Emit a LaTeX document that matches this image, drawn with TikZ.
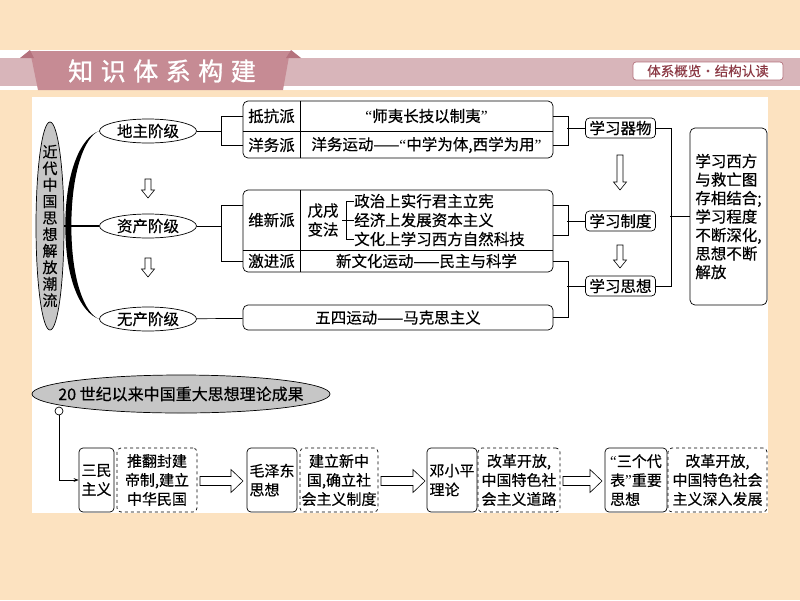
\documentclass[tikz,border=0pt]{standalone}
\usepackage{fontspec}
\setmainfont[FakeBold=0.4]{Noto Sans CJK SC}
\newfontfamily\titlefont[LetterSpace=30,FakeBold=1.2]{Noto Sans CJK SC}
\newfontfamily\quotefont{Liberation Serif}
\newcommand\lquo{{\quotefont “}}
\newcommand\rquo{{\quotefont ”}}
\usepackage{xcolor}
\usetikzlibrary{arrows.meta,shapes.geometric}
\definecolor{peach}{HTML}{FCE2C0}
\definecolor{band}{HTML}{D8B5BA}
\definecolor{tab}{HTML}{C68B94}
\definecolor{tabdark}{HTML}{B4727D}
\definecolor{tagred}{HTML}{8C3A45}

\begin{document}
\begin{tikzpicture}[x=1pt,y=-1pt,line width=0.7pt,>={Stealth[length=5pt]},
  every node/.style={font=\fontsize{15.5pt}{19pt}\selectfont},
  cls/.style={ellipse,draw,fill=white,minimum width=97pt,minimum height=24pt,inner sep=0pt},
  grp/.style={draw,rounded corners=5pt,minimum width=310pt,inner sep=0pt},
  cell/.style={minimum width=57pt,inner sep=0pt},
  row/.style={minimum width=253pt,inner sep=0pt},
  item/.style={draw,rounded corners=4pt,minimum width=70pt,minimum height=20pt,inner sep=1pt},
  lbox/.style={draw,rounded corners=4pt,minimum height=64pt,inner sep=1pt,align=left,font=\fontsize{15pt}{19pt}\selectfont},
  dbox/.style={draw,dashed,rounded corners=4pt,minimum height=64pt,inner sep=0.5pt,align=center,font=\fontsize{15pt}{19pt}\selectfont},
  hollow/.style={draw,fill=white,line width=0.6pt}]
  \useasboundingbox (0,0) rectangle (800,600);
  % page and banner
  \fill[peach] (0,0) rectangle (800,600);
  \fill[white] (0,50) rectangle (800,90);
  \fill[band] (0,58) rectangle (800,86);
  \fill[tab] (30,51) -- (290,51) -- (283,90) -- (38,90) -- cycle;
  \fill[tabdark] (20,58) -- (30,50) -- (34,58) -- cycle;
  \fill[tabdark] (286,58) -- (291,50) -- (301,58) -- cycle;
  \node[font=\titlefont\fontsize{25pt}{25pt}\selectfont,text=white] (title) at (162,71) {知识体系构建};
  \node[fill=white,draw=tabdark,rounded corners=3pt,minimum width=150pt,minimum height=18pt,inner sep=0pt,
        text=tagred,font=\fontsize{13.5pt}{13.5pt}\selectfont] (tag) at (708,71) {体系概览·结构认读};
  \fill[white] (32,97) rectangle (768,513);

  % left part
  \node[ellipse,draw,fill=gray!45,minimum width=28pt,minimum height=208pt,inner sep=0pt] (cl) at (50,226) {};
  \node[align=center,font=\fontsize{15pt}{16.5pt}\selectfont] (clt) at (cl) {近\\代\\中\\国\\思\\想\\解\\放\\潮\\流};
  \node[cls] (dz) at (148,131) {地主阶级};
  \node[cls] (zc) at (148,226) {资产阶级};
  \node[cls] (wc) at (148,319) {无产阶级};
  \fill ([xshift=1pt]cl.east) .. controls +(0,-55) and +(-18,6) .. (dz.west)
        .. controls +(-14,5) and +(0,-55) .. ([xshift=7pt]cl.east) -- cycle;
  \fill ([xshift=1pt]cl.east) .. controls +(0,55) and +(-18,-6) .. (wc.west)
        .. controls +(-14,-5) and +(0,55) .. ([xshift=7pt]cl.east) -- cycle;
  \draw[line width=1.3pt] (cl.east) -- (zc.west);
  \foreach \x/\y/\l in {148/179/19, 148/258/19, 620/155/35, 620/245/23}
    \draw[hollow] (\x-3,\y) -- ++(6,0) -- ++(0,\l-8) -- ++(3.5,0) -- (\x,\y+\l)
      -- ++(-6.5,-8) -- ++(3.5,0) -- cycle;

  % first group
  \node[grp,minimum height=57pt] (g1) at (398,129.5) {};
  \node[cell] (dk) at (271.5,116) {抵抗派};
  \node[cell] (yw) at (271.5,145) {洋务派};
  \node[row] (c1) at (426.5,116) {\lquo 师夷长技以制夷\rquo};
  \node[row] (c2) at (426.5,145) {洋务运动——\lquo 中学为体,西学为用\rquo};
  \draw (300,101) -- (300,158);
  \draw (243,131) -- (553,131);

  % second group
  \node[grp,minimum height=82pt] (g2) at (398,231) {};
  \node[cell] (wx) at (271.5,220) {维新派};
  \node[cell] (jj) at (271.5,261) {激进派};
  \node[row,minimum height=60pt] (wxr) at (426.5,220) {};
  \node[align=center] (wxf) at (323,220) {戊戌\\变法};
  \node[align=left,inner sep=0pt] (wxc) at (439.5,220) {政治上实行君主立宪\\经济上发展资本主义\\文化上学习西方自然科技};
  \draw (wxf.east) -- (wxc.west);
  \draw ([yshift=19pt]wxc.west) -- ++(-8,0) |- ([yshift=-19pt]wxc.west);
  \node[row] (jjr) at (426.5,261) {新文化运动——民主与科学};
  \draw (300,190) -- (300,272);
  \draw (243,250) -- (553,250);

  % third group
  \node[grp,minimum height=25pt] (g3) at (398,317.5) {五四运动——马克思主义};

  \draw (dz.east) -- ++(25,0);
  \draw (dk.west) -- ++(-21,0) |- (yw.west);
  \draw (zc.east) -- ++(25,0);
  \draw ([yshift=15pt]wx.west) -- ++(-21,0) |- (jj.west);
  \draw (wc) -- (g3);

  % right part
  \node[item] (qw) at (620.5,128) {学习器物};
  \node[item] (zd) at (620.5,221) {学习制度};
  \node[item] (sx) at (620.5,286) {学习思想};
  \draw (c1.east) -- ++(15,0) |- (c2.east);
  \draw (qw.west) -- ++(-18,0);
  \draw ([yshift=15pt]wxr.east) -- ++(15,0) |- ([yshift=-15pt]wxr.east);
  \draw (zd.west) -- ++(-18,0);
  \draw (jjr.east) -- ++(15,0) |- (g3.east);
  \draw (sx.west) -- ++(-18,0);
  \node[draw,rounded corners=5pt,minimum width=77pt,minimum height=177pt,align=left,inner sep=3pt,
        font=\fontsize{15.5pt}{18.5pt}\selectfont] (jl) at (728.5,216.5)
        {学习西方\\与救亡图\\存相结合;\\学习程度\\不断深化,\\思想不断\\解放};
  \draw (qw.east) -- ++(15,0) |- (sx.east);
  \draw (jl.west) -- ++(-20,0);

  % lower part
  \node[ellipse,draw,fill=gray!45,minimum width=298pt,minimum height=38pt,inner sep=0pt] (cg) at (181,394) {};
  \node[font=\fontsize{16pt}{16pt}\selectfont] (cgt) at (cg) {20 世纪以来中国重大思想理论成果};
  \node[circle,draw,fill=white,minimum size=8pt,inner sep=0pt] (kn) at (59,411) {};
  \node[lbox,minimum width=35pt,align=center] (sm) at (96.5,480) {三民\\主义};
  \node[dbox,minimum width=80pt] (tf) at (157,480) {推翻封建\\帝制,建立\\中华民国};
  \node[lbox,minimum width=50pt] (mz) at (272,480) {毛泽东\\思想};
  \node[dbox,minimum width=78pt] (js) at (339,480) {建立新中\\国,确立社\\会主义制度};
  \node[lbox,minimum width=50pt] (dx) at (452,480) {邓小平\\理论};
  \node[dbox,minimum width=82pt] (gk) at (519,480) {改革开放,\\中国特色社\\会主义道路};
  \node[lbox,minimum width=62pt] (sg) at (636,480) {\lquo 三个代\\表\rquo 重要\\思想};
  \node[dbox,minimum width=99pt] (sh) at (717.5,480) {改革开放,\\中国特色社会\\主义深入发展};
  \draw[->] (kn.south) |- (sm.west);
  \foreach \x/\l in {200/43, 381/44, 563/39}
    \draw[hollow] (\x,476.5) -- ++(\l-12,0) -- ++(0,-7) -- (\x+\l,481) -- ++(-12,11.5)
      -- ++(0,-7) -- ++(-\l+12,0) -- cycle;
\end{tikzpicture}
\end{document}
